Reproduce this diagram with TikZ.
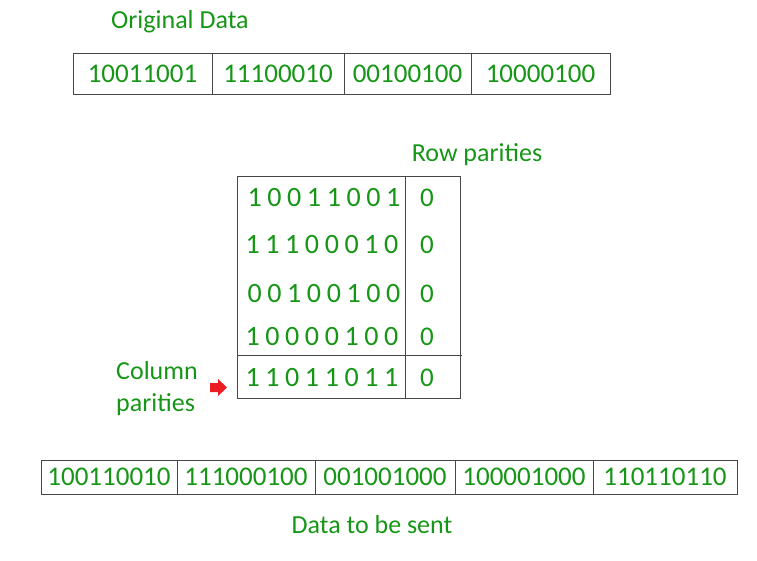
\documentclass[tikz,border=0pt]{standalone}
\usepackage{fontspec}
\setmainfont{Carlito}
\usetikzlibrary{positioning}
\definecolor{bitgreen}{RGB}{22,150,22}
\definecolor{linegray}{RGB}{70,70,70}
\definecolor{arrowred}{RGB}{235,28,36}
\tikzset{
  bits/.style={text=bitgreen, font=\fontsize{26}{30}\selectfont, inner sep=0pt},
  digits/.style={bits, font=\fontsize{27}{30}\selectfont},
  spaced/.style={bits, font=\fontsize{28}{30}\selectfont\addfontfeature{LetterSpace=20}},
  cell/.style={draw=linegray, thick, digits, minimum height=41pt, outer sep=0pt, anchor=west},
  sentcell/.style={cell, minimum height=34pt}
}
\begin{document}
\begin{tikzpicture}[x=1pt, y=-1pt]
        \useasboundingbox (0,0) rectangle (757,561);

        % Original data
        \node[bits, anchor=west] (origlabel) at (111,22) {Original Data};
        \node[cell, minimum width=139pt] (o1) at (73,73.5) {10011001};
        \node[cell, minimum width=132pt, right=0pt of o1] (o2) {11100010};
        \node[cell, minimum width=127pt, right=0pt of o2] (o3) {00100100};
        \node[cell, minimum width=139pt, right=0pt of o3] (o4) {10000100};

        % Parity table
        \node[bits] (rowlabel) at (477,155) {Row parities};
        \draw[linegray, thick] (237,176) rectangle (460,398);
        \draw[linegray, thick] (405,176) -- (405,398);
        \draw[linegray, thick] (237,355) -- (462,355);
        \node[spaced] (r1) at (324,198) {10011001};
        \node[spaced] (r2) at (322,245) {11100010};
        \node[spaced] (r3) at (324,294) {00100100};
        \node[spaced] (r4) at (322,337) {10000100};
        \node[spaced] (r5) at (322,378) {11011011};
        \foreach \y [count=\i] in {198,245,294,337,378}
          \node[digits] (p\i) at (427,\y) {0};

        % Column parities
        \node[bits, anchor=west, align=left] (collabel) at (116,389) {Column\\[2pt]parities};
        \fill[arrowred] (210,383) -- (218,383) -- (218,379) -- (227,387.5)
          -- (218,396) -- (218,392) -- (210,392) -- cycle;

        % Data to be sent
        \node[sentcell, minimum width=136pt] (s1) at (41,477) {100110010};
        \node[sentcell, minimum width=138pt, right=0pt of s1] (s2) {111000100};
        \node[sentcell, minimum width=140pt, right=0pt of s2] (s3) {001001000};
        \node[sentcell, minimum width=138pt, right=0pt of s3] (s4) {100001000};
        \node[sentcell, minimum width=144pt, right=0pt of s4] (s5) {110110110};
        \node[bits] (sentlabel) at (372,525) {Data to be sent};
      \end{tikzpicture}
\end{document}
